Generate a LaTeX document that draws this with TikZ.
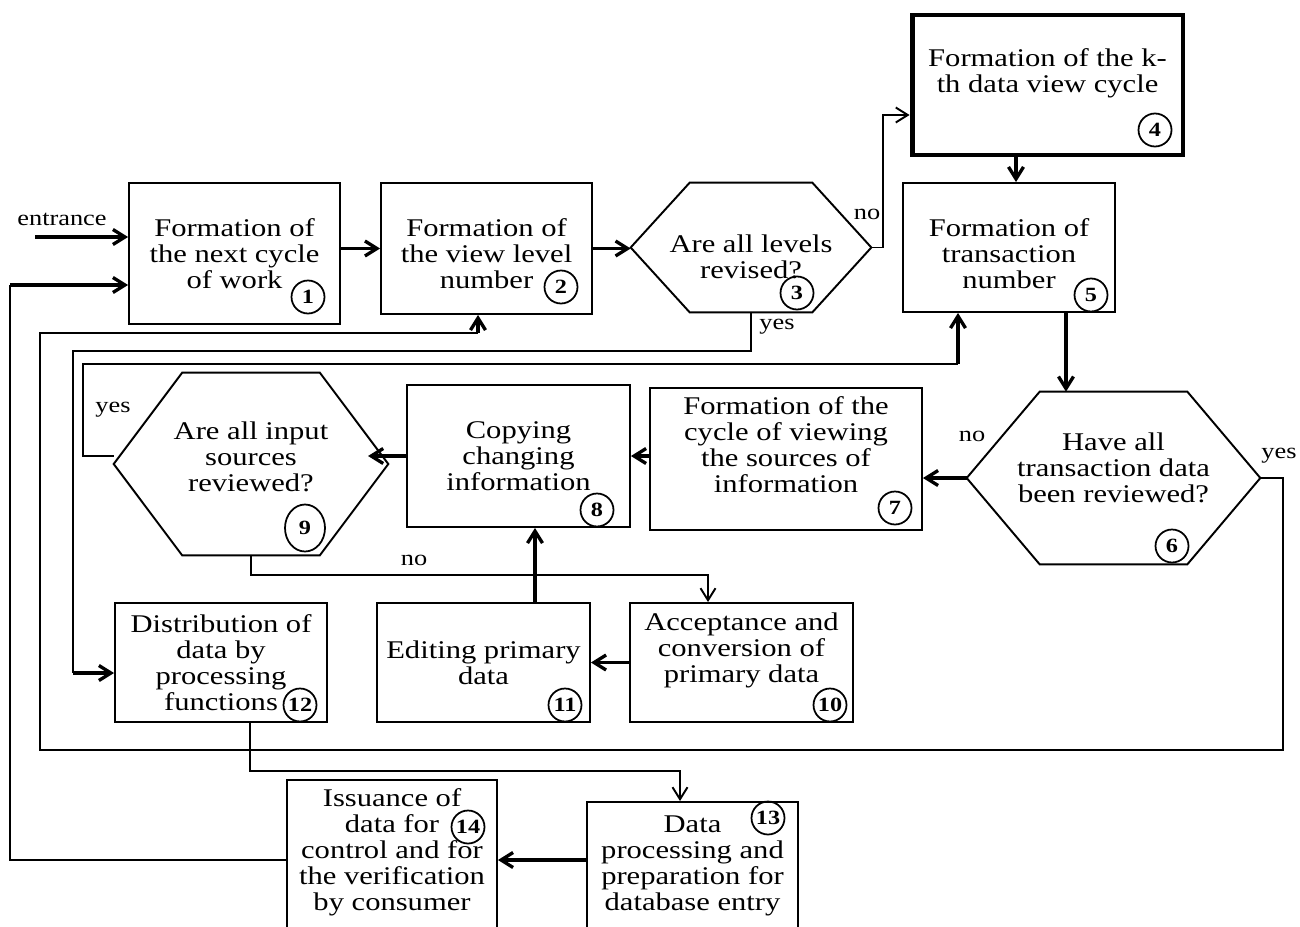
\documentclass[tikz,border=0pt]{standalone}
\usepackage{fontspec}
\setmainfont{Liberation Serif}[FakeStretch=1.2]
\usetikzlibrary{shapes.geometric, arrows, arrows.meta}
\newcommand{\flowfont}{\fontsize{14.5}{14.8}\selectfont}
\tikzstyle{process} = [rectangle, draw=black, line width=1.1pt, align=center, inner sep=2pt, font=\flowfont]
\tikzstyle{bigprocess} = [process, line width=2.8pt]
\tikzstyle{decision} = [rectangle, align=center, inner sep=2pt, font=\flowfont, append after command={\pgfextra{\draw[line width=1.1pt] (\tikzlastnode.west) -- ([xshift=#1]\tikzlastnode.north west) -- ([xshift=-#1]\tikzlastnode.north east) -- (\tikzlastnode.east) -- ([xshift=-#1]\tikzlastnode.south east) -- ([xshift=#1]\tikzlastnode.south west) -- cycle;}}]
\tikzstyle{num} = [circle, draw=black, line width=1pt, minimum size=0.66cm, inner sep=0pt, font=\fontsize{11.5}{11.5}\selectfont\bfseries]
\tikzstyle{answer} = [inner sep=1pt, font=\fontsize{12.5}{12.5}\selectfont]
\tikzstyle{arrow} = [line width=1.9pt, ->, >={Straight Barb[length=2.4mm, width=3mm]}]
\tikzstyle{thinarrow} = [line width=1.1pt, ->, >={Straight Barb[length=2.4mm, width=3mm]}]
\tikzstyle{link} = [line width=1.1pt]

\begin{document}
\begin{tikzpicture}[x=0.02cm, y=-0.02cm]
    \useasboundingbox (0,0) rectangle (1300,926);
    \clip (0,0) rectangle (1300,926);
    \node (pro1) [process, minimum width=4.22cm, minimum height=2.82cm] at (234.5,253.5) {Formation of\\the next cycle\\of work};
    \node (pro2) [process, minimum width=4.22cm, minimum height=2.62cm] at (486.5,248.5) {Formation of\\the view level\\number\\[-0.72cm]};
    \node (dec3) [decision=1.18cm, minimum width=4.8cm, minimum height=2.58cm] at (751,247.5) {Are all levels\\revised?\\[-0.88cm]};
    \node (pro4) [bigprocess, minimum width=5.42cm, minimum height=2.8cm] at (1047.5,85) {Formation of the k-\\th data view cycle\\[0.04cm]};
    \node (pro5) [process, minimum width=4.24cm, minimum height=2.58cm] at (1009,247.5) {Formation of\\transaction\\number\\[-0.76cm]};
    \node (dec6) [decision=1.46cm, minimum width=5.86cm, minimum height=3.44cm] at (1113.5,478) {Have all\\transaction data\\been reviewed?\\[-0.12cm]};
    \node (pro7) [process, minimum width=5.44cm, minimum height=2.84cm] at (786,459) {Formation of the\\cycle of viewing\\the sources of\\information\\[0.04cm]};
    \node (pro8) [process, minimum width=4.46cm, minimum height=2.84cm] at (518.5,456) {Copying\\changing\\information};
    \node (dec9) [decision=1.37cm, minimum width=5.48cm, minimum height=3.64cm] at (251,464) {Are all input\\sources\\reviewed?\\[-0.24cm]};
    \node (pro10) [process, minimum width=4.46cm, minimum height=2.38cm] at (741.5,662.5) {Acceptance and\\conversion of\\primary data\\[0.08cm]};
    \node (pro11) [process, minimum width=4.26cm, minimum height=2.38cm] at (483.5,662.5) {Editing primary\\data};
    \node (pro12) [process, minimum width=4.24cm, minimum height=2.38cm] at (221,662.5) {Distribution of\\data by\\processing\\functions};
    \node (pro13) [process, minimum width=4.22cm, minimum height=2.8cm] at (692.5,872) {Data\\processing and\\preparation for\\database entry\\[-0.16cm]};
    \node (pro14) [process, minimum width=4.2cm, minimum height=3.2cm] at (392,860) {Issuance of\\data for\\control and for\\the verification\\by consumer\\[-0.12cm]};

    \node (num1) [num] at (308,297) {1};
    \node (num2) [num] at (561,287) {2};
    \node (num3) [num] at (797,293) {3};
    \node (num4) [num] at (1155,130) {4};
    \node (num5) [num] at (1091,295) {5};
    \node (num6) [num] at (1172,546) {6};
    \node (num7) [num] at (895,508) {7};
    \node (num8) [num] at (597,510) {8};
    \node (num9) [num, ellipse, minimum width=0.8cm, minimum height=0.94cm] at (305,528) {9};
    \node (num10) [num] at (830,705) {10};
    \node (num11) [num] at (565,705) {11};
    \node (num12) [num] at (300,705) {12};
    \node (num13) [num] at (768,818) {13};
    \node (num14) [num] at (468,827) {14};

    \coordinate (ent) at (35,237);
    \coordinate (back1) at (10,285);
    \coordinate (lane9) at (958,364);
    \coordinate (lane3) at (73,351);
    \coordinate (lane12) at (73,673);
    \coordinate (lane6) at (40,750);
    \coordinate (lane2) at (478,333);

    \node (entlab) [answer] at (62,219) {entrance};
    \node (no3) [answer] at (867,214) {no};
    \node (yes3) [answer] at (777,327) {yes};
    \node (yes9) [answer] at (113,410) {yes};
    \node (no6) [answer] at (972,436) {no};
    \node (yes6) [answer] at (1279,456) {yes};
    \node (no9) [answer] at (414,560) {no};

    \draw [arrow] (ent) -- (ent -| pro1.west);
    \draw [arrow] (pro1.east |- pro2.west) -- (pro2.west);
    \draw [arrow] (pro2.east) -- (pro2.east -| dec3.west);
    \draw [thinarrow] (dec3.east) -- ++(12,0) |- ([yshift=-0.6cm]pro4.west);
    \draw [arrow] ([xshift=-0.63cm]pro4.south) -- ([xshift=-0.63cm]pro4.south |- pro5.north);
    \draw [arrow] ([xshift=1.14cm]pro5.south) -- ([xshift=1.14cm]pro5.south |- dec6.north);
    \draw [arrow] (dec6.west) -- (dec6.west -| pro7.east);
    \draw [arrow] (pro7.west |- pro8.east) -- (pro8.east);
    \draw [arrow] (pro8.west) -- ++(-38,0);
    \draw [link] ([yshift=0.16cm]dec9.west) -- ++(-31,0) |- (lane9);
    \draw [arrow] (lane9) -- (lane9 |- pro5.south);
    \draw [link] (dec3.south) |- (lane3) -- (lane12);
    \draw [arrow] (lane12) -- (lane12 -| pro12.west);
    \draw [link] (dec6.east) -- ++(23,0) |- (lane6) |- (lane2);
    \draw [arrow] (lane2) -- (lane2 |- pro2.south);
    \draw [thinarrow] (dec9.south) -- ++(0,20) -| ([xshift=-0.67cm]pro10.north);
    \draw [arrow] (pro10.west) -- (pro11.east);
    \draw [arrow] ([xshift=1.03cm]pro11.north) -- ([xshift=1.03cm]pro11.north |- pro8.south);
    \draw [thinarrow] ([xshift=0.58cm]pro12.south) -- ++(0,48) -| ([xshift=-0.25cm]pro13.north);
    \draw [arrow] (pro13.west |- pro14.east) -- (pro14.east);
    \draw [link] (pro14.west) -| (back1);
    \draw [arrow] (back1) -- (back1 -| pro1.west);
\end{tikzpicture}
\end{document}
